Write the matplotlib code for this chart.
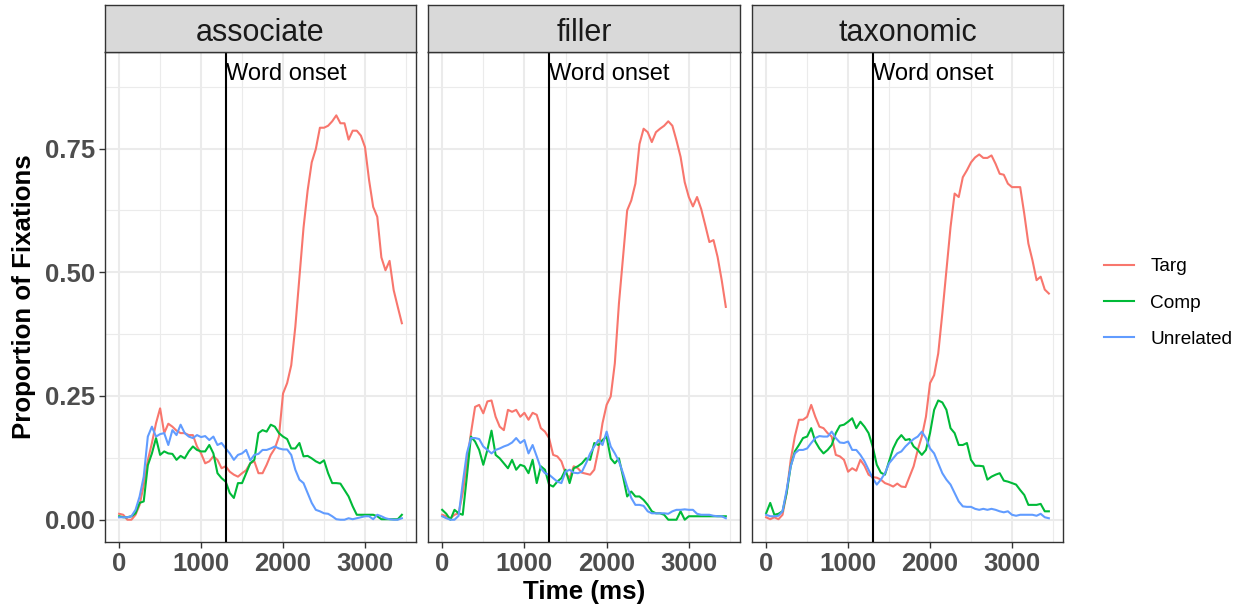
import matplotlib
matplotlib.use("Agg")
import matplotlib.pyplot as plt
from matplotlib.lines import Line2D
import numpy as np

plt.rcParams['font.family'] = ['Liberation Sans', 'DejaVu Sans']

# ---------------- data ----------------
time_ms = list(range(0, 3500, 50))  # 0..3450 ms, 70 bins
panels = ["associate", "filler", "taxonomic"]
series_names = ["Targ", "Comp", "Unrelated"]
series_colors = ["#F8766D", "#00BA38", "#619CFF"]
word_onset = 1300
onset_label = "Word onset"

assoc_targ = [0.012, 0.010, 0.0, 0.0, 0.010, 0.030, 0.070, 0.120, 0.155, 0.195,
              0.225, 0.175, 0.194, 0.188, 0.180, 0.175, 0.175, 0.171, 0.171, 0.148,
              0.134, 0.114, 0.118, 0.128, 0.121, 0.104, 0.108, 0.097, 0.091, 0.087,
              0.094, 0.100, 0.114, 0.118, 0.094, 0.094, 0.111, 0.131, 0.144, 0.168,
              0.255, 0.276, 0.312, 0.390, 0.490, 0.590, 0.665, 0.722, 0.749, 0.792,
              0.792, 0.796, 0.805, 0.817, 0.801, 0.801, 0.768, 0.786, 0.786, 0.776,
              0.753, 0.686, 0.632, 0.612, 0.530, 0.504, 0.523, 0.464, 0.430, 0.397]
assoc_comp = [0.007, 0.005, 0.005, 0.007, 0.013, 0.034, 0.037, 0.110, 0.134, 0.165,
              0.131, 0.138, 0.134, 0.133, 0.121, 0.129, 0.124, 0.138, 0.148, 0.141,
              0.138, 0.138, 0.151, 0.134, 0.094, 0.084, 0.077, 0.054, 0.044, 0.074,
              0.074, 0.094, 0.114, 0.121, 0.175, 0.181, 0.178, 0.192, 0.188, 0.175,
              0.168, 0.163, 0.144, 0.144, 0.155, 0.128, 0.129, 0.124, 0.118, 0.114,
              0.120, 0.094, 0.074, 0.074, 0.073, 0.060, 0.047, 0.027, 0.010, 0.010,
              0.010, 0.010, 0.010, 0.007, 0.001, 0.001, 0.001, 0.001, 0.001, 0.010]
assoc_unrel = [0.005, 0.005, 0.005, 0.007, 0.020, 0.047, 0.087, 0.168, 0.188, 0.168,
               0.173, 0.175, 0.151, 0.181, 0.171, 0.192, 0.175, 0.168, 0.165, 0.171,
               0.167, 0.169, 0.161, 0.168, 0.151, 0.155, 0.144, 0.134, 0.121, 0.131,
               0.134, 0.141, 0.120, 0.131, 0.133, 0.141, 0.141, 0.144, 0.148, 0.144,
               0.142, 0.142, 0.131, 0.101, 0.081, 0.074, 0.054, 0.034, 0.020, 0.017,
               0.013, 0.012, 0.007, 0.001, 0.0, 0.0, 0.003, 0.001, 0.003, 0.005,
               0.007, 0.007, 0.001, 0.010, 0.007, 0.003, 0.001, 0.0, 0.0, 0.003]

filler_targ = [0.010, 0.007, 0.003, 0.010, 0.013, 0.054, 0.114, 0.175, 0.228, 0.232,
               0.215, 0.239, 0.241, 0.208, 0.188, 0.181, 0.222, 0.218, 0.222, 0.208,
               0.216, 0.202, 0.216, 0.212, 0.185, 0.178, 0.165, 0.131, 0.128, 0.118,
               0.094, 0.084, 0.108, 0.104, 0.095, 0.093, 0.091, 0.101, 0.141, 0.195,
               0.232, 0.249, 0.316, 0.437, 0.531, 0.625, 0.645, 0.679, 0.759, 0.790,
               0.783, 0.763, 0.783, 0.790, 0.796, 0.805, 0.796, 0.766, 0.733, 0.682,
               0.652, 0.633, 0.652, 0.628, 0.595, 0.561, 0.565, 0.531, 0.484, 0.430]
filler_comp = [0.020, 0.012, 0.0, 0.020, 0.013, 0.010, 0.087, 0.168, 0.158, 0.141,
               0.111, 0.141, 0.180, 0.131, 0.124, 0.114, 0.104, 0.121, 0.101, 0.111,
               0.108, 0.094, 0.121, 0.074, 0.108, 0.101, 0.071, 0.067, 0.077, 0.084,
               0.101, 0.074, 0.104, 0.108, 0.114, 0.124, 0.121, 0.155, 0.151, 0.161,
               0.168, 0.124, 0.114, 0.124, 0.087, 0.047, 0.057, 0.047, 0.047, 0.040,
               0.030, 0.017, 0.013, 0.013, 0.010, 0.0, 0.0, 0.0, 0.017, 0.0,
               0.007, 0.007, 0.007, 0.007, 0.007, 0.007, 0.007, 0.007, 0.007, 0.007]
filler_unrel = [0.007, 0.003, 0.0, 0.0, 0.008, 0.074, 0.134, 0.165, 0.165, 0.163,
                0.148, 0.141, 0.134, 0.141, 0.144, 0.148, 0.151, 0.156, 0.165, 0.155,
                0.161, 0.134, 0.151, 0.128, 0.104, 0.094, 0.091, 0.084, 0.077, 0.074,
                0.097, 0.101, 0.095, 0.094, 0.097, 0.114, 0.134, 0.148, 0.161, 0.151,
                0.178, 0.148, 0.134, 0.118, 0.094, 0.067, 0.044, 0.030, 0.030, 0.028,
                0.017, 0.013, 0.013, 0.013, 0.013, 0.012, 0.017, 0.020, 0.020, 0.021,
                0.020, 0.020, 0.012, 0.010, 0.010, 0.010, 0.008, 0.007, 0.007, 0.003]

tax_targ = [0.005, 0.001, 0.005, 0.001, 0.010, 0.054, 0.121, 0.168, 0.202, 0.202,
            0.208, 0.232, 0.208, 0.188, 0.185, 0.175, 0.168, 0.131, 0.128, 0.121,
            0.097, 0.104, 0.099, 0.121, 0.109, 0.091, 0.086, 0.085, 0.081, 0.074,
            0.071, 0.067, 0.073, 0.067, 0.066, 0.087, 0.108, 0.141, 0.168, 0.208,
            0.276, 0.292, 0.336, 0.417, 0.504, 0.591, 0.659, 0.652, 0.692, 0.706,
            0.722, 0.732, 0.738, 0.731, 0.731, 0.736, 0.719, 0.699, 0.697, 0.679,
            0.672, 0.672, 0.672, 0.618, 0.558, 0.524, 0.484, 0.491, 0.465, 0.457]
tax_comp = [0.013, 0.034, 0.010, 0.012, 0.017, 0.054, 0.108, 0.138, 0.151, 0.165,
            0.168, 0.185, 0.158, 0.144, 0.134, 0.141, 0.151, 0.175, 0.190, 0.192,
            0.198, 0.205, 0.185, 0.198, 0.188, 0.175, 0.148, 0.111, 0.095, 0.091,
            0.118, 0.144, 0.161, 0.171, 0.161, 0.163, 0.148, 0.141, 0.131, 0.141,
            0.175, 0.222, 0.241, 0.237, 0.222, 0.185, 0.175, 0.151, 0.151, 0.155,
            0.121, 0.109, 0.109, 0.108, 0.081, 0.087, 0.091, 0.094, 0.079, 0.077,
            0.074, 0.071, 0.060, 0.050, 0.030, 0.030, 0.030, 0.032, 0.017, 0.017]
tax_unrel = [0.010, 0.007, 0.007, 0.008, 0.017, 0.060, 0.108, 0.134, 0.141, 0.141,
             0.144, 0.155, 0.165, 0.169, 0.168, 0.168, 0.178, 0.165, 0.156, 0.155,
             0.158, 0.141, 0.141, 0.131, 0.118, 0.101, 0.084, 0.071, 0.081, 0.094,
             0.114, 0.124, 0.134, 0.138, 0.148, 0.156, 0.163, 0.168, 0.178, 0.165,
             0.144, 0.134, 0.114, 0.094, 0.081, 0.071, 0.054, 0.037, 0.027, 0.026,
             0.026, 0.022, 0.020, 0.022, 0.020, 0.022, 0.020, 0.017, 0.015, 0.017,
             0.010, 0.008, 0.010, 0.010, 0.010, 0.010, 0.008, 0.012, 0.005, 0.003]

panel_data = {
    "associate": [assoc_targ, assoc_comp, assoc_unrel],
    "filler": [filler_targ, filler_comp, filler_unrel],
    "taxonomic": [tax_targ, tax_comp, tax_unrel],
}

x_ticks = [0, 1000, 2000, 3000]
x_minor = [500, 1500, 2500, 3500]
y_ticks = [0.0, 0.25, 0.50, 0.75]
y_tick_labels = ["0.00", "0.25", "0.50", "0.75"]
y_minor = [0.125, 0.375, 0.625, 0.875]

# ---------------- layout ----------------
W, H = 1250, 611
fig = plt.figure(figsize=(W / 100, H / 100), dpi=100)
fig.patch.set_facecolor("white")

panel_lr = [(105, 416), (428, 740), (752, 1063)]
panel_top, panel_bot = 52, 542
strip_top = 5

def fx(px):
    return px / W

def fy(py):
    return 1 - py / H

for i, (name, (l, r)) in enumerate(zip(panels, panel_lr)):
    ax = fig.add_axes([fx(l), fy(panel_bot), fx(r) - fx(l), (panel_bot - panel_top) / H])
    ax.set_facecolor("white")
    ax.set_xlim(-172.5, 3622.5)
    ax.set_ylim(-0.045, 0.945)
    for v in x_minor:
        ax.axvline(v, color="#EBEBEB", lw=0.8, zorder=0)
    for v in y_minor:
        ax.axhline(v, color="#EBEBEB", lw=0.8, zorder=0)
    for v in x_ticks:
        ax.axvline(v, color="#EBEBEB", lw=1.5, zorder=0)
    for v in y_ticks:
        ax.axhline(v, color="#EBEBEB", lw=1.5, zorder=0)

    for vals, col in zip(panel_data[name], series_colors):
        ax.plot(time_ms, vals, color=col, lw=1.5, zorder=3)
    ax.axvline(word_onset, color="black", lw=1.5, zorder=4)
    ax.text(word_onset, 0.9, onset_label, ha="left", va="center", fontsize=17,
            color="black", zorder=5)

    for s in ax.spines.values():
        s.set_color("#333333")
        s.set_linewidth(1.0)
    ax.set_xticks(x_ticks)
    ax.set_xticklabels([str(t) for t in x_ticks], fontsize=18.5, fontweight="bold",
                       color="#4D4D4D")
    ax.tick_params(axis="x", length=4, width=1.0, color="#333333", pad=3)
    if i == 0:
        ax.set_yticks(y_ticks)
        ax.set_yticklabels(y_tick_labels, fontsize=18.5, fontweight="bold", color="#4D4D4D")
        ax.tick_params(axis="y", length=4, width=1.0, color="#333333", pad=3)
    else:
        ax.set_yticks([])

    # strip
    sax = fig.add_axes([fx(l), fy(panel_top), fx(r) - fx(l), (panel_top - strip_top) / H])
    sax.set_facecolor("#D9D9D9")
    sax.set_xticks([])
    sax.set_yticks([])
    for s in sax.spines.values():
        s.set_color("#333333")
        s.set_linewidth(1.0)
    sax.text(0.5, 0.234, name, ha="center", va="baseline", fontsize=22, color="#1A1A1A",
             transform=sax.transAxes)

fig.text(fx(584), fy(592), "Time (ms)", ha="center", va="center", fontsize=18.7,
         fontweight="bold", color="black")
fig.text(fx(24), fy(297), "Proportion of Fixations", ha="center", va="center",
         fontsize=18.6, fontweight="bold", color="black", rotation=90)

handles = [Line2D([0], [0], color=c, lw=1.5) for c in series_colors]
fig.legend(handles, series_names, loc="center left", bbox_to_anchor=(fx(1087), fy(303)),
           frameon=False, fontsize=13.7, handlelength=1.58, handletextpad=0.84,
           labelspacing=1.0)

fig.savefig("out.png", dpi=100, facecolor="white")
